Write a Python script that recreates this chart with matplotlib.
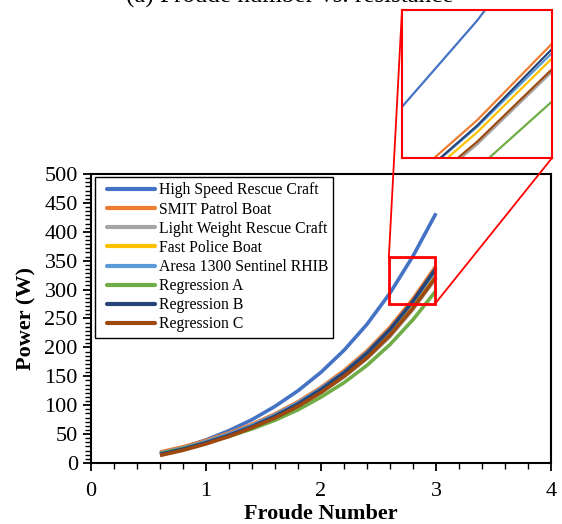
import matplotlib
matplotlib.use("Agg")
import matplotlib.pyplot as plt
from matplotlib.ticker import AutoMinorLocator, MultipleLocator
from matplotlib.patches import Rectangle
from matplotlib.lines import Line2D
from matplotlib.legend_handler import HandlerBase

plt.rcParams['font.family'] = ['Liberation Serif', 'DejaVu Serif']

froude = [0.6, 0.8, 1.0, 1.2, 1.4, 1.6, 1.8, 2.0, 2.2, 2.4, 2.6, 2.8, 3.0]

series_names = ["High Speed Rescue Craft", "SMIT Patrol Boat", "Light Weight Rescue Craft",
                "Fast Police Boat", "Aresa 1300 Sentinel RHIB", "Regression A",
                "Regression B", "Regression C"]
hsrc      = [16, 27, 40, 56, 75, 98, 125, 157, 195, 240, 294, 358, 432]
smit      = [19, 28, 39, 52, 67, 85, 106, 131, 160, 194, 235, 284, 341]
lwrc      = [15, 24, 35, 47, 61, 78, 98, 122, 149, 181, 219, 266, 320]
police    = [15, 24, 35, 48, 63, 81, 101, 126, 154, 187, 227, 275, 330]
aresa     = [17, 26, 37, 50, 65, 83, 104, 129, 157, 191, 231, 279, 334]
reg_a     = [16, 25, 35, 46, 59, 74, 92, 114, 139, 169, 205, 248, 298]
reg_b     = [15, 24, 35, 48, 63, 81, 102, 127, 156, 190, 231, 280, 337]
reg_c     = [13, 22, 33, 46, 61, 78, 98, 122, 150, 182, 221, 268, 322]
series_vals = [hsrc, smit, lwrc, police, aresa, reg_a, reg_b, reg_c]
colors = ["#4472C4", "#ED7D31", "#A5A5A5", "#FFC000", "#5B9BD5", "#70AD47", "#264478", "#9E480E"]
draw_order = [0, 5, 2, 3, 4, 6, 1, 7]

xlim = (0, 4)
ylim = (0, 500)
zoom_x = (2.59, 2.99)
zoom_y = (275, 356)
inset_xlim = (2.6, 3.0)
inset_ylim = (256, 366)


class OffsetLineHandler(HandlerBase):
    def create_artists(self, legend, orig_handle, xdescent, ydescent, width, height,
                       fontsize, trans):
        y = height / 2.0 - ydescent
        x0 = -xdescent + width * 0.12
        x1 = -xdescent + width
        ln = Line2D([x0, x1], [y, y], color=orig_handle.get_color(),
                    lw=orig_handle.get_linewidth(), solid_capstyle='round', transform=trans)
        return [ln]


W, H = 562, 524
fig = plt.figure(figsize=(W / 100, H / 100), dpi=100)
ax = fig.add_axes([91 / W, (H - 463) / H, 460 / W, 289 / H])

for i in draw_order:
    ax.plot(froude, series_vals[i], color=colors[i], lw=2.6, solid_capstyle='butt', zorder=2 + i * 0.01)

ax.set_xlim(*xlim)
ax.set_ylim(*ylim)
ax.xaxis.set_major_locator(MultipleLocator(1))
ax.yaxis.set_major_locator(MultipleLocator(50))
ax.xaxis.set_minor_locator(AutoMinorLocator(5))
ax.yaxis.set_minor_locator(AutoMinorLocator(7))
ax.tick_params(which='major', direction='out', length=6, width=1.3, labelsize=16, color='black')
ax.tick_params(which='minor', direction='out', length=4, width=1.0, color='black')
ax.tick_params(axis='x', pad=8)
for s in ax.spines.values():
    s.set_linewidth(1.5)
    s.set_color('black')
ax.set_xlabel("Froude Number", fontsize=16, fontweight='bold', labelpad=2)
ax.set_ylabel("Power (W)", fontsize=16, fontweight='bold', labelpad=6)

handles = [Line2D([0], [0], color=c, lw=3) for c in colors]
leg = ax.legend(handles, series_names, loc='upper left',
                bbox_to_anchor=(4 / 460, 1 - 3 / 289), borderaxespad=0,
                fontsize=11.3, frameon=True, fancybox=False, edgecolor='black',
                framealpha=1, handlelength=3.45, handletextpad=0.25, labelspacing=0.2,
                borderpad=0.35, handler_map={Line2D: OffsetLineHandler()})
leg.get_frame().set_linewidth(1.0)

ax.add_patch(Rectangle((zoom_x[0], zoom_y[0]), zoom_x[1] - zoom_x[0], zoom_y[1] - zoom_y[0],
                       fill=False, edgecolor='red', lw=2, zorder=10))

iax = fig.add_axes([402 / W, (H - 158) / H, 150 / W, 148 / H])
for i in draw_order:
    iax.plot(froude, series_vals[i], color=colors[i], lw=1.6, zorder=2 + i * 0.01)
iax.set_xlim(*inset_xlim)
iax.set_ylim(*inset_ylim)
iax.set_xticks([])
iax.set_yticks([])
for s in iax.spines.values():
    s.set_color('red')
    s.set_linewidth(1.5)


def to_fig(xd, yd):
    p = ax.transData.transform((xd, yd))
    return fig.transFigure.inverted().transform(p)


p1 = to_fig(zoom_x[0], zoom_y[1])
p2 = to_fig(zoom_x[1], zoom_y[0])
fig.add_artist(Line2D([p1[0], 402 / W], [p1[1], (H - 10) / H], color='red', lw=1.3,
                      transform=fig.transFigure))
fig.add_artist(Line2D([p2[0], 552 / W], [p2[1], (H - 158) / H], color='red', lw=1.3,
                      transform=fig.transFigure))

fig.text(290 / W, 1 - 3 / H, "(a) Froude number vs. resistance", fontsize=18,
         ha='center', va='baseline')

fig.savefig("out.png", dpi=100)
